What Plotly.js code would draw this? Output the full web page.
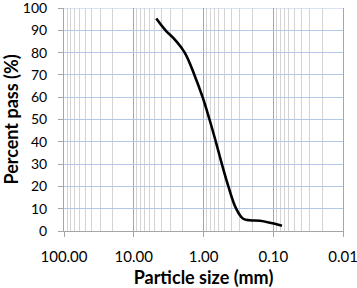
<!DOCTYPE html>
<html>
<head>
<meta charset="utf-8">
<script src="https://cdn.plot.ly/plotly-3.0.1.min.js"></script>
<style>html,body{margin:0;padding:0;background:#fff;}#chart{width:357px;height:288px;}</style>
</head>
<body>
<div id="chart"></div>
<script>
const particleSize = [4.75, 3.5, 2.54, 1.86, 1.35, 1.03, 0.82, 0.665, 0.545, 0.44, 0.34, 0.27, 0.215, 0.155, 0.075];
const percentPass = [95.3, 90, 85.6, 80, 70, 60, 50, 40, 30, 20, 10, 5.5, 4.8, 4.6, 2.4];
const xTickVals = [100, 10, 1, 0.1, 0.01];
const xTickText = ['100.00', '10.00', '1.00', '0.10', '0.01'];
const yTickVals = [0, 10, 20, 30, 40, 50, 60, 70, 80, 90, 100];

const font = 'Lato, "Liberation Sans", Arial, sans-serif';
const yMax = yTickVals[yTickVals.length - 1];

Plotly.newPlot('chart', [{
  x: particleSize,
  y: percentPass,
  type: 'scatter',
  mode: 'lines',
  line: {color: '#000000', width: 2.6, shape: 'spline', smoothing: 1.1},
  hoverinfo: 'skip'
}], {
  width: 357, height: 288,
  margin: {l: 64, r: 14, t: 8, b: 57, pad: 0},
  paper_bgcolor: '#ffffff', plot_bgcolor: '#ffffff',
  showlegend: false,
  font: {family: font, color: '#000000', size: 15},
  shapes: [{type: 'line', xref: 'paper', yref: 'y', x0: 0, x1: 1, y0: yMax, y1: yMax,
            line: {color: '#b4c7e7', width: 1}, layer: 'below'}],
  xaxis: {
    type: 'log', range: [2, -2], autorange: false,
    tickvals: xTickVals, ticktext: xTickText,
    ticks: 'outside', ticklen: 5, tickcolor: '#a6a6a6', tickwidth: 1,
    ticklabelstandoff: 7, ticklabeloverflow: 'allow',
    showgrid: true, gridcolor: '#a6a6a6', gridwidth: 1,
    minor: {dtick: 'D1', showgrid: true, gridcolor: '#d4d4d4', gridwidth: 1, ticks: ''},
    showline: true, linecolor: '#a6a6a6', linewidth: 1,
    zeroline: false,
    tickfont: {family: font, size: 15, color: '#000000'},
    title: {text: 'Particle size (mm)', font: {family: font, size: 18, color: '#000000', weight: 'bold'}, standoff: 16}
  },
  yaxis: {
    range: [0, 100], autorange: false,
    tickvals: yTickVals,
    ticks: 'outside', ticklen: 5, tickcolor: '#a6a6a6', tickwidth: 1,
    ticklabelstandoff: 8, ticklabeloverflow: 'allow',
    showgrid: true, gridcolor: '#b4c7e7', gridwidth: 1,
    showline: true, linecolor: '#a6a6a6', linewidth: 1, mirror: true,
    zeroline: false,
    tickfont: {family: font, size: 14, color: '#000000'},
    title: {text: 'Percent pass (%)', font: {family: font, size: 18, color: '#000000', weight: 'bold'}, standoff: 5}
  }
}, {staticPlot: true, displayModeBar: false});
</script>
</body>
</html>
